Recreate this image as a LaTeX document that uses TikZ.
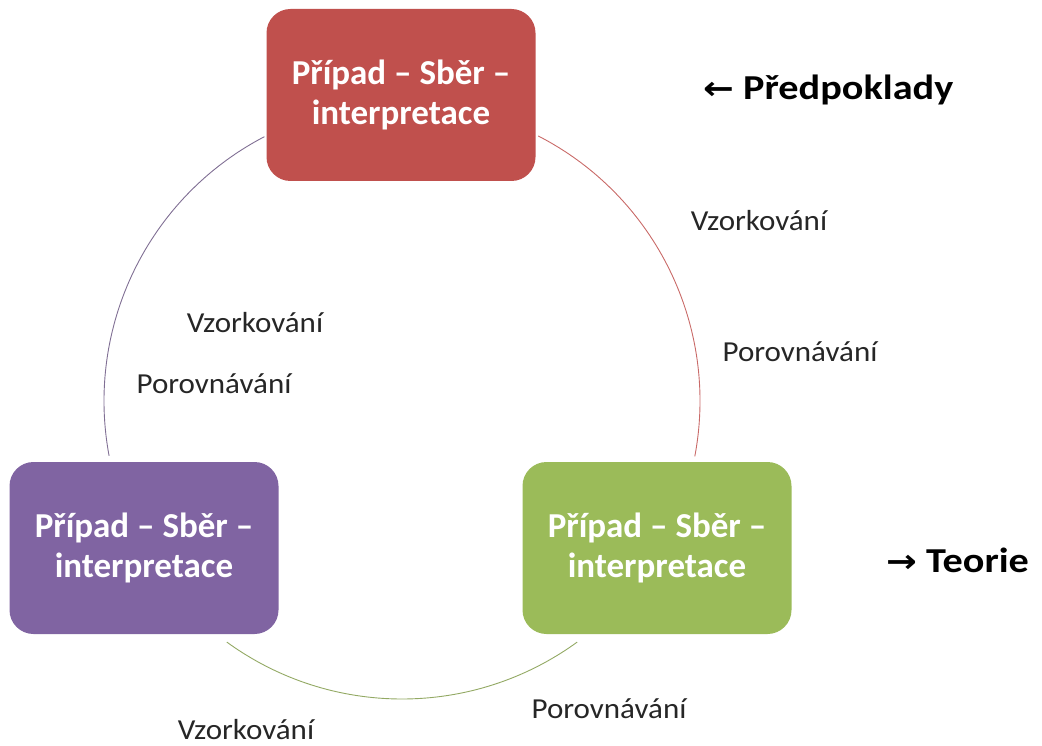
\documentclass[tikz,border=0pt]{standalone}
\usepackage{fontspec}
\setmainfont{Carlito}
\newfontfamily\arrowfont{DejaVu Sans}
\definecolor{cred}{HTML}{C0504D}
\definecolor{cpurple}{HTML}{8064A2}
\definecolor{cgreen}{HTML}{9BBB59}
\begin{document}
\begin{tikzpicture}[x=1pt,y=-1pt,
  boxnode/.style={rounded corners=24pt, minimum width=269pt, minimum height=172pt,
    text=white, font=\fontsize{35}{40}\selectfont\bfseries, align=center, inner sep=0pt},
  lbl/.style={font=\fontsize{29}{34}\selectfont, text=black!85, inner sep=0pt, xscale=1.07, transform shape},
  side/.style={font=\fontsize{35}{40}\selectfont\bfseries, text=black, inner sep=0pt, xscale=1.15, transform shape},
  arcline/.style={line width=0.9pt}]
\useasboundingbox (0,0) rectangle (1042,746);
\coordinate (c) at (402,401);
\draw[arcline, cred!85] (c) ++(62.8:298pt) arc[start angle=62.8, end angle=-10.7, radius=298pt];
\draw[arcline, cpurple!60!gray] (c) ++(117.5:298pt) arc[start angle=117.5, end angle=190.6, radius=298pt];
\draw[arcline, cgreen!70!gray] (c) ++(234:298pt) arc[start angle=234, end angle=306, radius=298pt];
\node[boxnode, fill=cred] (top) at (401,95) {Případ – Sběr –\\interpretace};
\node[boxnode, fill=cpurple] (left) at (144,548) {Případ – Sběr –\\interpretace};
\node[boxnode, fill=cgreen] (right) at (657,548) {Případ – Sběr –\\interpretace};
\node[side, anchor=west] (pred) at (703,90) {{\arrowfont\fontsize{32}{34}\selectfont ←} Předpoklady};
\node[side, anchor=west] (teo) at (886,560) {{\arrowfont\fontsize{32}{34}\selectfont →} Teorie};
\node[lbl] (v1) at (759,221) {Vzorkování};
\node[lbl] (p1) at (800,352) {Porovnávání};
\node[lbl] (v2) at (255,323) {Vzorkování};
\node[lbl] (p2) at (214,384) {Porovnávání};
\node[lbl] (p3) at (609,709) {Porovnávání};
\node[lbl] (v3) at (246,730) {Vzorkování};
\end{tikzpicture}
\end{document}
